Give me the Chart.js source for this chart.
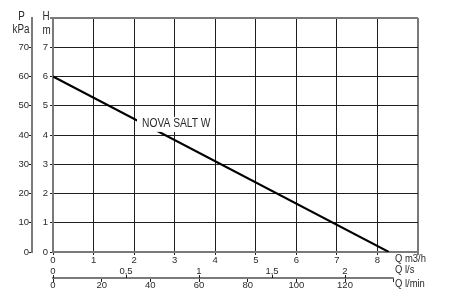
<!DOCTYPE html>
<html>
<head>
<meta charset="utf-8">
<script src="https://cdn.jsdelivr.net/npm/chart.js@4.4.1/dist/chart.umd.min.js"></script>
<style>
  html, body { margin: 0; padding: 0; background: #fff; }
  #wrap { width: 452px; height: 304px; }
</style>
</head>
<body>
<div id="wrap"><canvas id="pumpChart"></canvas></div>
<script>
// pump curve
var flowM3h = [0, 8.28];
var headM = [6, 0];

var ticksM3h = [0, 1, 2, 3, 4, 5, 6, 7, 8, 9];
var ticksH = [0, 1, 2, 3, 4, 5, 6, 7, 8];
var ticksP = [0, 10, 20, 30, 40, 50, 60, 70];
var ticksLs = [0, 0.5, 1, 1.5, 2];
var ticksLmin = [0, 20, 40, 60, 80, 100, 120, 140];

var curveName = 'NOVA SALT W';
var curveLabelAt = [2.17, 4.38];

var FONT = "'Liberation Sans', Arial, sans-serif";
var FRAME = '#7a7a7a';
var GRID = '#1e1e1e';
var TEXT = '#2a2a2a';

Chart.defaults.font.family = FONT;
Chart.defaults.font.size = 9.5;
Chart.defaults.color = TEXT;

function setTicks(list) {
  return function (scale) {
    scale.ticks = list.map(function (v) { return { value: v }; });
  };
}
function fixWidth(w) { return function (scale) { scale.width = w; }; }
function fixHeight(h) { return function (scale) { scale.height = h; }; }

// narrow look: squeeze the text horizontally
function narrowText(ctx, str, x, y, align) {
  var k = 0.82;
  var w = ctx.measureText(str).width * k;
  var left = align === 'center' ? x - w / 2 : x;
  ctx.save();
  ctx.translate(left, y);
  ctx.scale(k, 1);
  ctx.textAlign = 'left';
  ctx.fillText(str, 0, 0);
  ctx.restore();
  return w;
}

var points = flowM3h.map(function (q, i) { return { x: q, y: headM[i] }; });

var extras = {
  id: 'extras',
  afterDatasetsDraw: function (chart) {
    var ctx = chart.ctx;
    var x = chart.scales.x, y = chart.scales.y;
    var px = x.getPixelForValue(curveLabelAt[0]);
    var py = y.getPixelForValue(curveLabelAt[1]);
    ctx.save();
    ctx.font = '12.5px ' + FONT;
    var w = ctx.measureText(curveName).width * 0.82;
    ctx.fillStyle = '#fff';
    ctx.fillRect(px - 4, py - 7, w + 5, 15);
    ctx.fillStyle = TEXT;
    ctx.textBaseline = 'middle';
    narrowText(ctx, curveName, px + 1, py, 'left');
    ctx.restore();
  },
  afterDraw: function (chart) {
    var ctx = chart.ctx;
    var s = chart.scales;
    ctx.save();
    // l/min axis line and the l/s ticks on top of it
    var lineY = s.xLmin.top;
    ctx.strokeStyle = FRAME;
    ctx.lineWidth = 2;
    ctx.beginPath();
    ctx.moveTo(s.xLmin.getPixelForValue(0) - 1, lineY);
    ctx.lineTo(s.xLmin.getPixelForValue(140), lineY);
    ctx.stroke();
    ctx.strokeStyle = GRID;
    ctx.lineWidth = 1;
    ticksLs.forEach(function (v) {
      var tx = Math.round(s.xLs.getPixelForValue(v)) + 0.5;
      ctx.beginPath();
      ctx.moveTo(tx, lineY - 3);
      ctx.lineTo(tx, lineY);
      ctx.stroke();
    });
    // axis titles
    ctx.fillStyle = TEXT;
    ctx.font = '12px ' + FONT;
    ctx.textBaseline = 'middle';
    narrowText(ctx, 'P', s.yP.left + 21.5, 17, 'center');
    narrowText(ctx, 'kPa', s.yP.left + 21, 30, 'center');
    narrowText(ctx, 'H', s.y.left + 14, 17, 'center');
    narrowText(ctx, 'm', s.y.left + 14.5, 31, 'center');
    ctx.font = '11.5px ' + FONT;
    var qx = chart.chartArea.right - 23;
    narrowText(ctx, 'Q m3/h', qx, s.x.top + 7, 'left');
    narrowText(ctx, 'Q l/s', qx, s.xLs.top + 3.5, 'left');
    narrowText(ctx, 'Q l/min', qx, s.xLmin.top + 6, 'left');
    ctx.restore();
  }
};

new Chart(document.getElementById('pumpChart'), {
  type: 'line',
  data: {
    datasets: [{
      data: points,
      borderColor: '#000',
      borderWidth: 2,
      pointRadius: 0,
      tension: 0,
      xAxisID: 'x',
      yAxisID: 'y'
    }]
  },
  options: {
    responsive: true,
    maintainAspectRatio: false,
    animation: false,
    layout: { padding: { top: 18, right: 34, bottom: 12, left: 0 } },
    plugins: { legend: { display: false }, tooltip: { enabled: false } },
    scales: {
      x: {
        type: 'linear', position: 'bottom', weight: 0, min: 0, max: 9,
        afterBuildTicks: setTicks(ticksM3h),
        afterFit: fixHeight(14),
        ticks: { padding: 0, maxRotation: 0, autoSkip: false,
          callback: function (v) { return v <= 8 ? String(v) : ''; } },
        grid: {
          tickLength: 3,
          color: function (c) { return c.tick && c.tick.value === 9 ? FRAME : GRID; },
          lineWidth: function (c) { return c.tick && c.tick.value === 9 ? 2 : 1; }
        },
        border: { color: FRAME, width: 2 }
      },
      xLs: {
        type: 'linear', position: 'bottom', weight: 1, min: 0, max: 2.5,
        afterBuildTicks: setTicks(ticksLs),
        afterFit: fixHeight(12),
        ticks: { padding: 0, maxRotation: 0, autoSkip: false,
          callback: function (v) { return String(v).replace('.', ','); } },
        grid: { display: false, drawTicks: false },
        border: { display: false }
      },
      xLmin: {
        type: 'linear', position: 'bottom', weight: 2, min: 0, max: 150,
        afterBuildTicks: setTicks(ticksLmin),
        afterFit: fixHeight(14),
        ticks: { padding: -2, maxRotation: 0, autoSkip: false,
          callback: function (v) { return v <= 120 ? String(v) : ''; } },
        grid: { drawOnChartArea: false, tickLength: 4, color: GRID },
        border: { display: false }
      },
      y: {
        type: 'linear', position: 'left', weight: 0, min: 0, max: 8,
        afterBuildTicks: setTicks(ticksH),
        afterFit: fixWidth(21),
        ticks: { padding: 2, autoSkip: false,
          callback: function (v) { return v <= 7 ? String(v) : ''; } },
        grid: {
          tickLength: 3,
          color: function (c) { return c.tick && c.tick.value === 8 ? FRAME : GRID; },
          lineWidth: function (c) { return c.tick && c.tick.value === 8 ? 2 : 1; }
        },
        border: { color: FRAME, width: 2 }
      },
      yP: {
        type: 'linear', position: 'left', weight: 1, min: 0, max: 80,
        afterBuildTicks: setTicks(ticksP),
        afterFit: fixWidth(32),
        ticks: { padding: 0, autoSkip: false },
        grid: { drawOnChartArea: false, tickLength: 3, color: GRID },
        border: { color: FRAME, width: 2 }
      }
    }
  },
  plugins: [extras]
});
</script>
</body>
</html>
